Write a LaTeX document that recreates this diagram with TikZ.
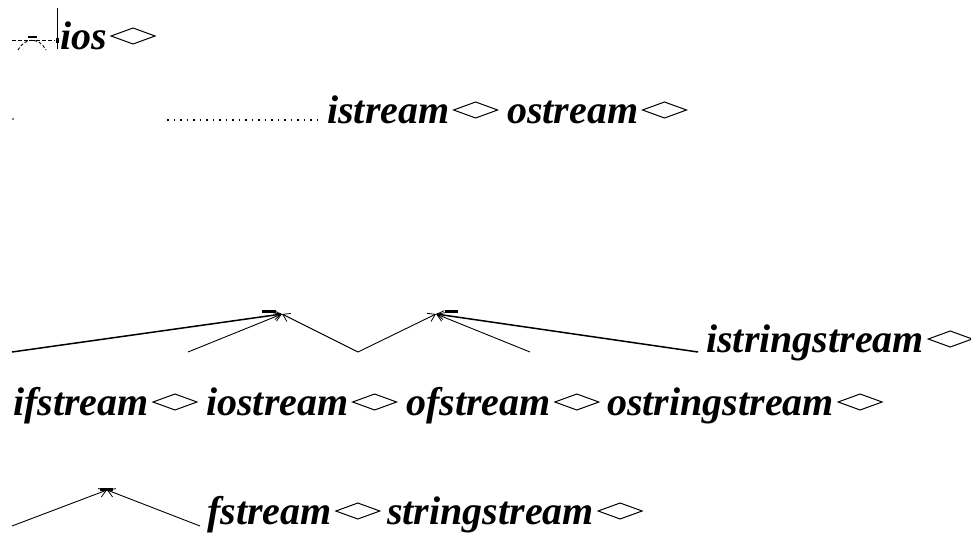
\documentclass[tikz,border=0pt]{standalone}
\usepackage{fontspec}
\setmainfont{Liberation Serif}
\usetikzlibrary{arrows.meta}
\newcommand\clsfont{\fontsize{40}{40}\selectfont\bfseries\itshape}
\newcommand\drawdmd[1]{\draw[dmdline] ([xshift=4pt,yshift=13pt]#1.base east) -- ++(22pt,8pt) -- ++(22pt,-8pt) -- ++(-22pt,-8pt) -- cycle;}
\begin{document}
\begin{tikzpicture}[x=1pt,y=-1pt,
  cls/.style={font=\clsfont, inner sep=0pt, anchor=base west},
  dmdline/.style={line width=1pt, line join=miter},
  inher/.style={line width=0.9pt, -{Straight Barb[length=7pt,width=9pt,line width=0.8pt]}},
  thickinher/.style={inher, line width=1.5pt},
  bar/.style={line width=2.2pt}]
\useasboundingbox (0,0) rectangle (971,535);
\clip (0,0) rectangle (971,535);
% class names
\node[cls] (ios) at (60,49) {ios};
\node[cls] (istream) at (327,123) {istream};
\node[cls] (ostream) at (507,123) {ostream};
\node[cls] (istringstream) at (706,352) {istringstream};
\node[cls] (ifstream) at (13,415) {ifstream};
\node[cls] (iostream) at (206,415) {iostream};
\node[cls] (ofstream) at (406,415) {ofstream};
\node[cls] (ostringstream) at (607,415) {ostringstream};
\node[cls] (fstream) at (207,524) {fstream};
\node[cls] (stringstream) at (387,524) {stringstream};
\foreach \n in {ios,istream,ostream,istringstream,ifstream,iostream,ofstream,ostringstream,fstream,stringstream}{\drawdmd{\n}}
% top-left marks
\draw[line width=0.9pt, dash pattern=on 4pt off 2pt] (12,40) -- (55,40);
\draw[line width=1.6pt] (28,37) -- (37,37);
\draw[line width=0.9pt, dash pattern=on 3pt off 2pt] (18,50) .. controls (25,37) and (39,37) .. (46,50);
\draw[line width=0.9pt] (57,8) -- (57,49);
\fill (55.5,38) rectangle (58.8,43);
% dotted row
\fill (13,119) circle (0.9pt);
\draw[line width=1.3pt, dash pattern=on 1.5pt off 5pt] (167,120) -- (318,120);
% apex coordinates and free ends
\coordinate (aL) at (282,314);
\coordinate (aR) at (436,314);
\coordinate (aB) at (107,490);
\coordinate (e1) at (12,352);
\coordinate (e2) at (188,352);
\coordinate (ev) at (358,352);
\coordinate (e5) at (530,352);
\coordinate (e6) at (12,526);
\coordinate (e7) at (200,526);
\draw[thickinher] (e1) -- (aL);
\draw[inher] (e2) -- (aL);
\draw[inher] (ev) -- (aL);
\draw[inher] (ev) -- (aR);
\draw[inher] (e5) -- (aR);
\draw[thickinher] ([xshift=-8pt]istringstream.base west) -- (aR);
\draw[bar] (262,311.5) -- (276,311.5);
\draw[bar] (445,311.5) -- (458,311.5);
\draw[inher] (e6) -- (aB);
\draw[inher] (e7) -- (aB);
\draw[line width=3pt] (100,489) -- (113,489);
\end{tikzpicture}
\end{document}
